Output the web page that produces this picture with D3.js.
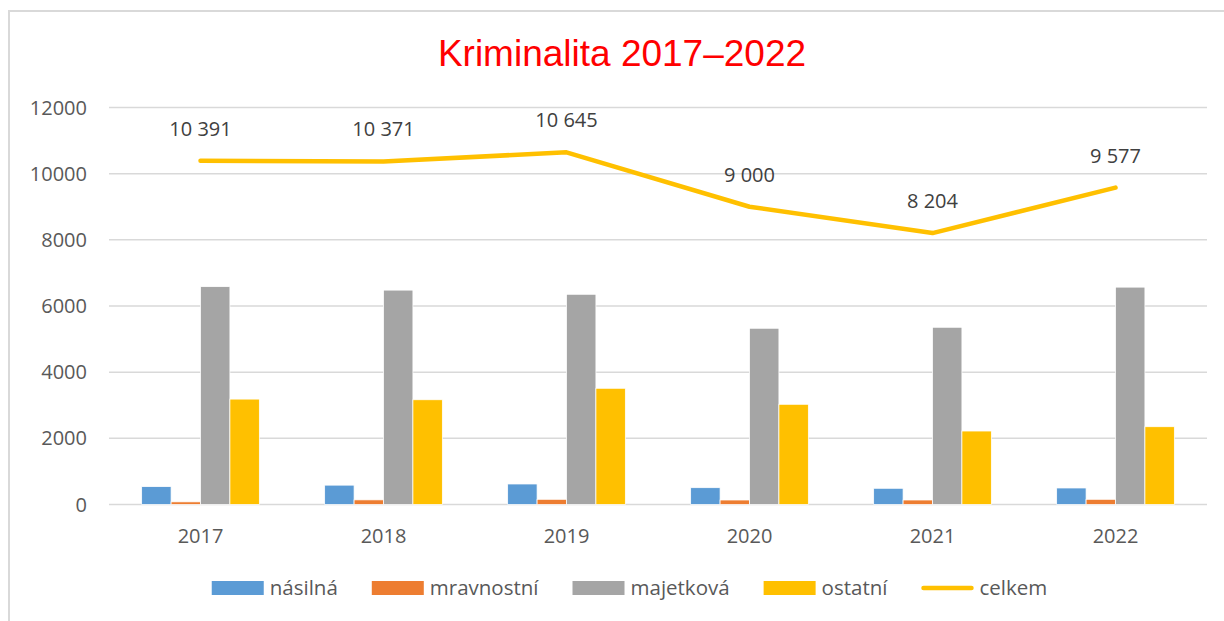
<!DOCTYPE html>
<html>
<head>
<meta charset="utf-8">
<script src="https://cdn.jsdelivr.net/npm/d3@7"></script>
<style>
  html, body { margin: 0; padding: 0; background: #fff; }
  svg { display: block; }
</style>
</head>
<body>
<svg id="chart" width="1224" height="621"></svg>
<script>
const years = ["2017", "2018", "2019", "2020", "2021", "2022"];
const seriesNames = ["násilná", "mravnostní", "majetková", "ostatní"];
const nasilna     = [540, 585, 620, 508, 490, 499];
const mravnostni  = [80, 140, 157, 136, 136, 157];
const majetkova   = [6585, 6480, 6354, 5327, 5357, 6570];
const ostatni     = [3186, 3166, 3513, 3029, 2221, 2351];
const celkem      = [10391, 10371, 10645, 9000, 8204, 9577];
const celkemLabels = ["10 391", "10 371", "10 645", "9 000", "8 204", "9 577"];
const yTicks = [0, 2000, 4000, 6000, 8000, 10000, 12000];
const colors = ["#5B9BD5", "#ED7D31", "#A5A5A5", "#FFC000"];
const lineColor = "#FFC000";

const barSeries = [nasilna, mravnostni, majetkova, ostatni];

const svg = d3.select("#chart");
const font = "'Open Sans', 'DejaVu Sans', sans-serif";

// chart border
svg.append("rect")
  .attr("x", 9).attr("y", 11)
  .attr("width", 1240).attr("height", 640)
  .attr("fill", "none").attr("stroke", "#d9d9d9").attr("stroke-width", 2);

// title
svg.append("text")
  .attr("x", 622).attr("y", 66)
  .attr("text-anchor", "middle")
  .attr("font-family", "'Liberation Sans', Arial, sans-serif")
  .attr("font-size", 37)
  .attr("fill", "#FF0000")
  .text("Kriminalita 2017–2022");

const plotL = 109, plotR = 1207, plotT = 107.5, plotB = 504.5;

const y = d3.scaleLinear().domain([0, 12000]).range([plotB, plotT]);
const x0 = d3.scaleBand().domain(years).range([plotL, plotR]).padding(0);
const groupW = x0.bandwidth() * 0.643;
const x1 = d3.scaleBand().domain(d3.range(4)).range([0, groupW]).padding(0);

// gridlines
svg.append("g")
  .selectAll("line")
  .data(yTicks)
  .join("line")
  .attr("x1", plotL).attr("x2", plotR)
  .attr("y1", d => y(d)).attr("y2", d => y(d))
  .attr("stroke", "#d9d9d9").attr("stroke-width", 1.5);

// y axis labels
svg.append("g")
  .selectAll("text")
  .data(yTicks)
  .join("text")
  .attr("x", 87).attr("y", d => y(d))
  .attr("dy", "0.35em")
  .attr("text-anchor", "end")
  .attr("font-family", font).attr("font-size", 20)
  .attr("fill", "#595959")
  .text(d => d);

// x axis labels
svg.append("g")
  .selectAll("text")
  .data(years)
  .join("text")
  .attr("x", d => x0(d) + x0.bandwidth() / 2)
  .attr("y", 536)
  .attr("dy", "0.35em")
  .attr("text-anchor", "middle")
  .attr("font-family", font).attr("font-size", 20)
  .attr("fill", "#595959")
  .text(d => d);

// bars
const groups = svg.append("g")
  .selectAll("g")
  .data(years)
  .join("g")
  .attr("transform", d => `translate(${x0(d) + (x0.bandwidth() - groupW) / 2},0)`);

groups.selectAll("rect")
  .data((yr, i) => barSeries.map((s, k) => ({ k, v: s[i] })))
  .join("rect")
  .attr("x", d => x1(d.k))
  .attr("width", x1.bandwidth())
  .attr("y", d => y(d.v))
  .attr("height", d => plotB - y(d.v))
  .attr("fill", d => colors[d.k])
  .attr("stroke", "#ffffff").attr("stroke-width", 0.75);

// line
const line = d3.line()
  .x((d, i) => x0(years[i]) + x0.bandwidth() / 2)
  .y(d => y(d));

svg.append("path")
  .datum(celkem)
  .attr("d", line)
  .attr("fill", "none")
  .attr("stroke", lineColor)
  .attr("stroke-width", 4.5)
  .attr("stroke-linejoin", "round")
  .attr("stroke-linecap", "round");

// data labels
svg.append("g")
  .selectAll("text")
  .data(celkem)
  .join("text")
  .attr("x", (d, i) => x0(years[i]) + x0.bandwidth() / 2)
  .attr("y", d => y(d) - 32)
  .attr("dy", "0.35em")
  .attr("text-anchor", "middle")
  .attr("font-family", font).attr("font-size", 20)
  .attr("fill", "#404040")
  .text((d, i) => celkemLabels[i]);

// legend
const legendItems = seriesNames.map((n, i) => ({ name: n, color: colors[i], type: "rect" }))
  .concat([{ name: "celkem", color: lineColor, type: "line" }]);
const legend = svg.append("g");
const ly = 588;
const swW = 52, swGap = 6, itemGap = 34;
let cx = 0;
const items = legend.selectAll("g").data(legendItems).join("g");
items.each(function (d) {
  const g = d3.select(this);
  if (d.type === "rect") {
    g.append("rect").attr("x", 0).attr("y", ly - 7).attr("width", swW).attr("height", 14).attr("fill", d.color);
  } else {
    g.append("line").attr("x1", 2).attr("x2", swW - 2).attr("y1", ly).attr("y2", ly)
      .attr("stroke", d.color).attr("stroke-width", 4.5).attr("stroke-linecap", "round");
  }
  const t = g.append("text")
    .attr("x", swW + swGap).attr("y", ly).attr("dy", "0.35em")
    .attr("font-family", font).attr("font-size", 20.5)
    .attr("fill", "#595959").text(d.name);
  d.w = swW + swGap + t.node().getComputedTextLength();
});
items.each(function (d) {
  d3.select(this).attr("transform", `translate(${cx},0)`);
  cx += d.w + itemGap;
});
const totalW = cx - itemGap;
legend.attr("transform", `translate(${629.5 - totalW / 2},0)`);
</script>
</body>
</html>
